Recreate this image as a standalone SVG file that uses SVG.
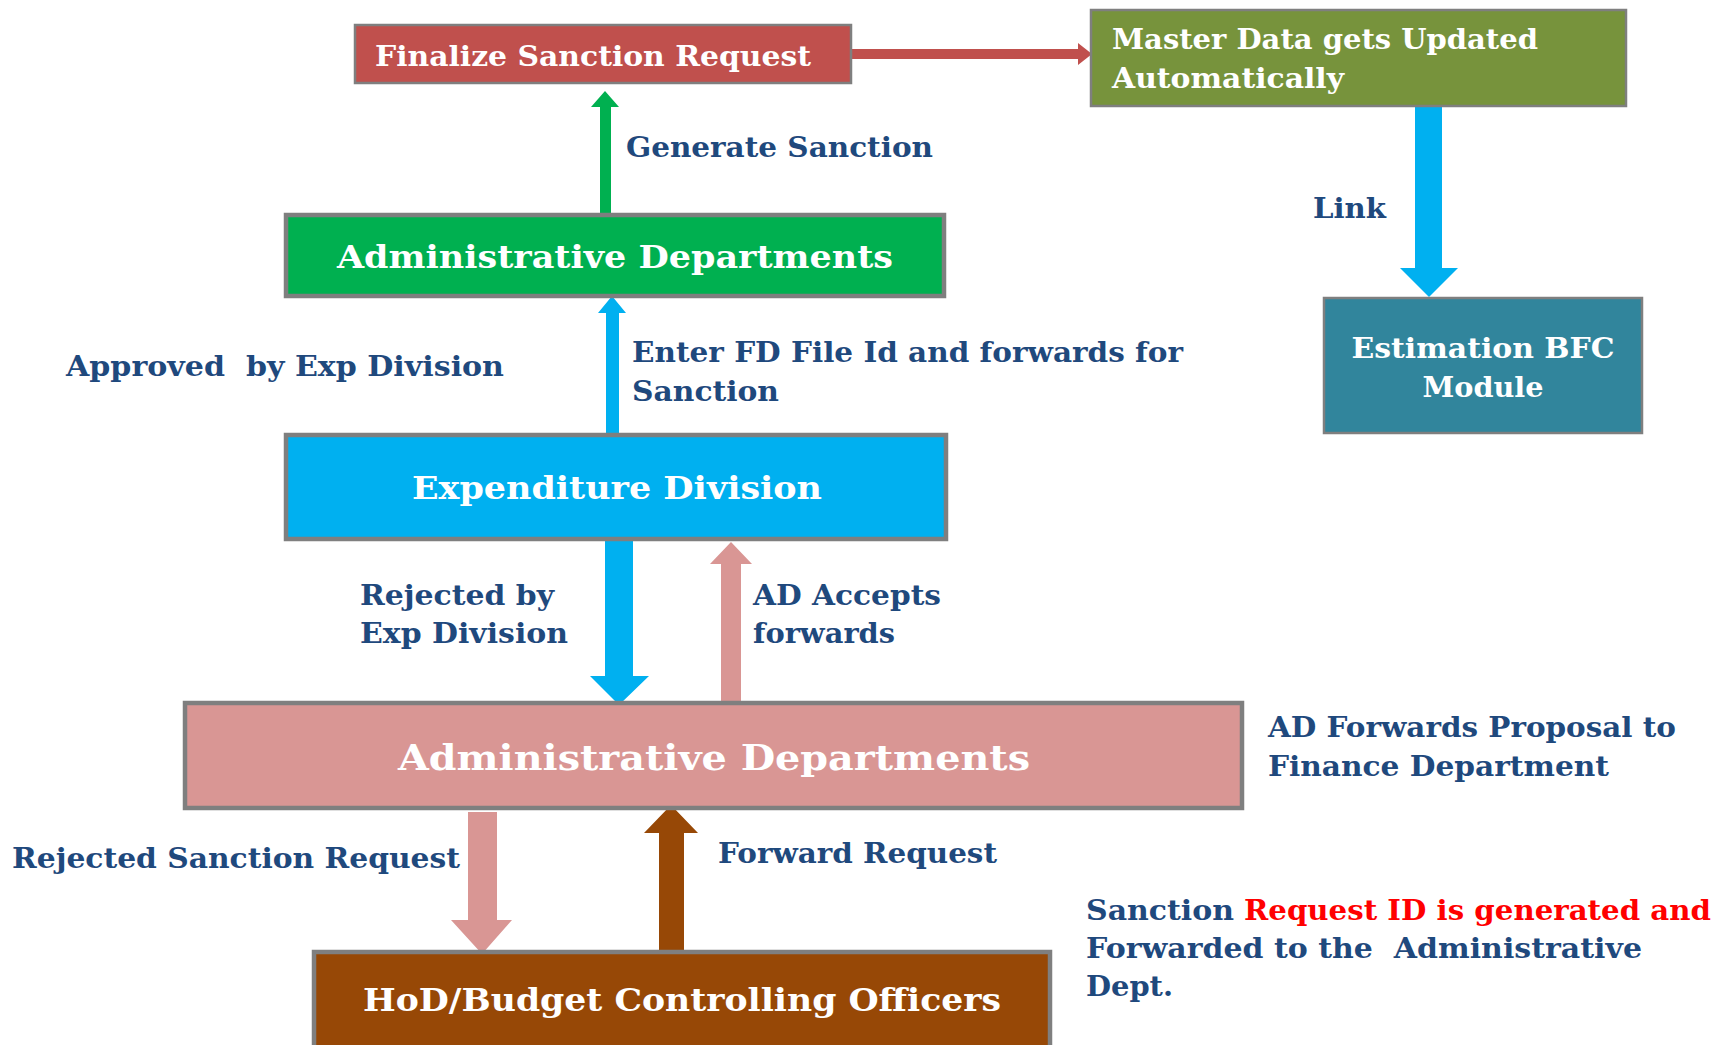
<svg xmlns="http://www.w3.org/2000/svg" width="1718" height="1045" viewBox="0 0 1718 1045">
<style>
.box{stroke:#7F7F7F;}
.thin{stroke-width:2.5;}
.thick{stroke-width:4.5;}
.bt{font-family:"DejaVu Serif","Liberation Serif",serif;font-weight:bold;fill:#FFFFFF;}
.lb{font-family:"DejaVu Serif","Liberation Serif",serif;font-weight:bold;fill:#1F497D;font-size:28px;white-space:pre;}
.red{fill:#FF0000;}
</style>
<rect width="1718" height="1045" fill="#FFFFFF"/>
<g id="connectors">
<polygon points="851,49 1078,49 1078,43 1092,54 1078,65 1078,59 851,59" fill="#C0504D"/>
<polygon points="1415,106 1442,106 1442,268 1458,268 1429,297 1400,268 1415,268" fill="#00B0F0"/>
<polygon points="600,214 600,107 591,107 605,91 619,107 611,107 611,214" fill="#00B050"/>
<polygon points="606,435 606,313 598,313 612,296 626,313 619,313 619,435" fill="#00B0F0"/>
<polygon points="605,540 633,540 633,676 649,676 619,705 590,676 605,676" fill="#00B0F0"/>
<polygon points="721,701 721,564 710,564 731,542 752,564 741,564 741,701" fill="#D99694"/>
<polygon points="468,812 497,812 497,920 512,920 482,954 451,920 468,920" fill="#D99694"/>
<polygon points="659,950 659,833 644,833 671,805 698,833 684,833 684,950" fill="#974806"/>
</g>
<g id="n-finalize">
<rect class="box thin" x="355" y="25" width="496" height="58" fill="#C0504D"/>
<text class="bt" x="375" y="66" font-size="28" textLength="436" lengthAdjust="spacingAndGlyphs">Finalize Sanction Request</text>
</g>
<g id="n-master">
<rect class="box thin" x="1091" y="10" width="535" height="96" fill="#77933C"/>
<text class="bt" x="1112" y="49" font-size="28" textLength="426" lengthAdjust="spacingAndGlyphs">Master Data gets Updated</text>
<text class="bt" x="1112" y="88" font-size="28" textLength="232" lengthAdjust="spacingAndGlyphs">Automatically</text>
</g>
<g id="n-estimation">
<rect class="box thin" x="1324" y="298" width="318" height="135" fill="#31859C"/>
<text class="bt" x="1483" y="358" font-size="28" text-anchor="middle" textLength="263" lengthAdjust="spacingAndGlyphs">Estimation BFC</text>
<text class="bt" x="1483" y="397" font-size="28" text-anchor="middle" textLength="121" lengthAdjust="spacingAndGlyphs">Module</text>
</g>
<g id="n-admin-top">
<rect class="box thick" x="286" y="215" width="658" height="81" fill="#00B050"/>
<text class="bt" x="615" y="268" font-size="32" text-anchor="middle" textLength="556" lengthAdjust="spacingAndGlyphs">Administrative Departments</text>
</g>
<g id="n-expenditure">
<rect class="box thick" x="286" y="435" width="660" height="104" fill="#00B0F0"/>
<text class="bt" x="617" y="499" font-size="32" text-anchor="middle" textLength="410" lengthAdjust="spacingAndGlyphs">Expenditure Division</text>
</g>
<g id="n-admin-mid">
<rect class="box thick" x="185" y="703" width="1057" height="105" fill="#D99694"/>
<text class="bt" x="714" y="770" font-size="36" text-anchor="middle" textLength="632" lengthAdjust="spacingAndGlyphs">Administrative Departments</text>
</g>
<g id="n-hod">
<rect class="box thick" x="314" y="952" width="736" height="100" fill="#974806"/>
<text class="bt" x="682" y="1011" font-size="31" text-anchor="middle" textLength="638" lengthAdjust="spacingAndGlyphs">HoD/Budget Controlling Officers</text>
</g>
<g id="labels">
<text class="lb" x="626" y="157" textLength="307" lengthAdjust="spacingAndGlyphs">Generate Sanction</text>
<text class="lb" x="1313" y="218" textLength="73" lengthAdjust="spacingAndGlyphs">Link</text>
<text class="lb" x="66" y="376" textLength="438" lengthAdjust="spacingAndGlyphs" xml:space="preserve">Approved  by Exp Division</text>
<text class="lb" x="632" y="362" textLength="551" lengthAdjust="spacingAndGlyphs">Enter FD File Id and forwards for</text>
<text class="lb" x="632" y="401" textLength="147" lengthAdjust="spacingAndGlyphs">Sanction</text>
<text class="lb" x="360" y="605" textLength="194" lengthAdjust="spacingAndGlyphs">Rejected by</text>
<text class="lb" x="360" y="643" textLength="208" lengthAdjust="spacingAndGlyphs">Exp Division</text>
<text class="lb" x="753" y="605" textLength="188" lengthAdjust="spacingAndGlyphs">AD Accepts</text>
<text class="lb" x="753" y="643" textLength="142" lengthAdjust="spacingAndGlyphs">forwards</text>
<text class="lb" x="1268" y="737" textLength="408" lengthAdjust="spacingAndGlyphs">AD Forwards Proposal to</text>
<text class="lb" x="1268" y="776" textLength="341" lengthAdjust="spacingAndGlyphs">Finance Department</text>
<text class="lb" x="12" y="868" textLength="448" lengthAdjust="spacingAndGlyphs">Rejected Sanction Request</text>
<text class="lb" x="718" y="863" textLength="279" lengthAdjust="spacingAndGlyphs">Forward Request</text>
<text class="lb" x="1086" y="920" textLength="148" lengthAdjust="spacingAndGlyphs">Sanction</text>
<text class="lb red" x="1244" y="920" textLength="467" lengthAdjust="spacingAndGlyphs">Request ID is generated and</text>
<text class="lb" x="1086" y="958" textLength="556" lengthAdjust="spacingAndGlyphs" xml:space="preserve">Forwarded to the  Administrative</text>
<text class="lb" x="1086" y="996" textLength="87" lengthAdjust="spacingAndGlyphs">Dept.</text>
</g>
</svg>
